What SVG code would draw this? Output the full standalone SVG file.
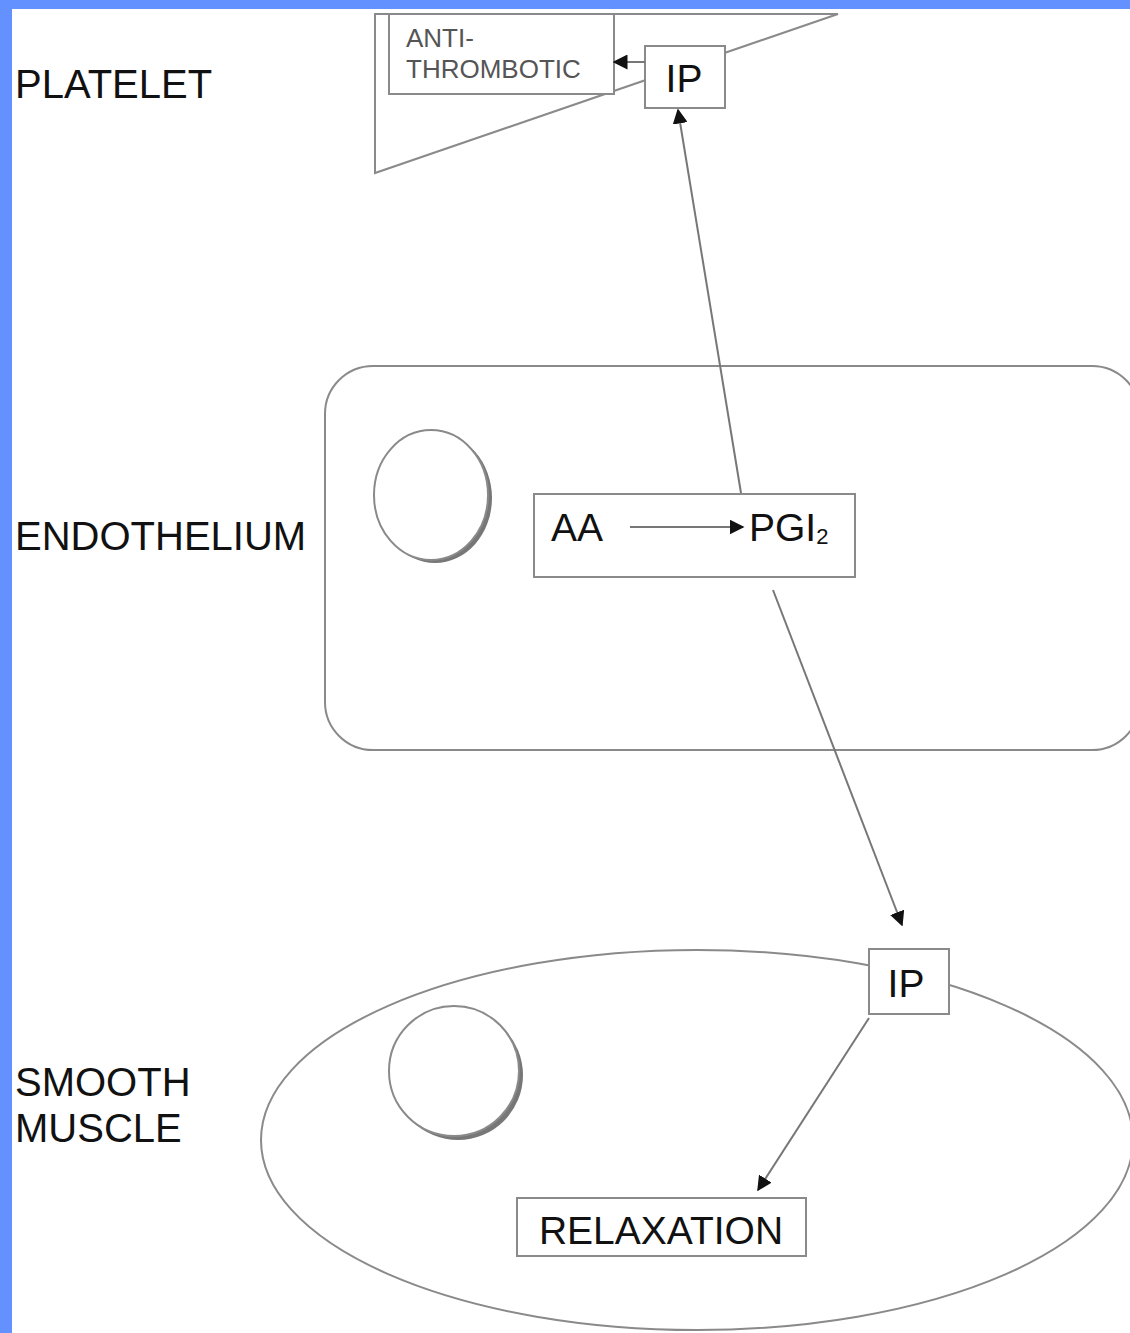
<svg xmlns="http://www.w3.org/2000/svg" width="1130" height="1333" viewBox="0 0 1130 1333">
<style>
.ln{fill:none;stroke:#8a8a8a;stroke-width:2}
.bx{fill:#fff;stroke:#8a8a8a;stroke-width:2}
.lbl{font-family:"Liberation Sans",Arial,sans-serif;font-size:40px;fill:#111}
.t{font-family:"Liberation Sans",Arial,sans-serif;font-size:39px;fill:#111}
.sm{font-family:"Liberation Sans",Arial,sans-serif;font-size:26px;fill:#555}
.arr{fill:none;stroke:#777;stroke-width:2}
</style>
<defs>
<marker id="ah" viewBox="0 0 10 10" refX="9" refY="5" markerWidth="7.5" markerHeight="7.5" orient="auto" markerUnits="strokeWidth">
<path d="M0,0 L10,5 L0,10 z" fill="#111"/>
</marker>
</defs>
<rect x="0" y="0" width="1130" height="1333" fill="#fff"/>
<rect x="0" y="0" width="1130" height="9" fill="#6391ff"/>
<rect x="0" y="0" width="12" height="1333" fill="#6391ff"/>

<g id="labels">
<text class="lbl" x="15" y="98">PLATELET</text>
<text class="lbl" x="15" y="550">ENDOTHELIUM</text>
<text class="lbl" x="15" y="1096">SMOOTH</text>
<text class="lbl" x="15" y="1142">MUSCLE</text>
</g>

<g id="platelet">
<polygon class="ln" points="375,14 838,14 375,173"/>
</g>
<g id="antithrombotic">
<rect class="bx" x="389" y="14" width="225" height="80"/>
<text class="sm" x="406" y="47">ANTI-</text>
<text class="sm" x="406" y="78">THROMBOTIC</text>
</g>
<g id="ip-platelet">
<rect class="bx" x="645" y="46" width="80" height="62"/>
<text class="t" x="684" y="92" text-anchor="middle">IP</text>
</g>

<g id="endothelium">
<rect class="ln" x="325" y="366" width="815" height="384" rx="48" ry="48"/>
</g>
<g id="nucleus-endo">
<ellipse cx="435" cy="498" rx="57" ry="65" fill="#777"/>
<ellipse cx="431" cy="495" rx="57" ry="65" fill="#fff" stroke="#8a8a8a" stroke-width="2"/>
</g>
<g id="aa-pgi2">
<rect class="bx" x="534" y="494" width="321" height="83"/>
<text class="t" x="551" y="541">AA</text>
<text class="t" x="749" y="541">PGI<tspan font-size="22" dy="3">2</tspan></text>
</g>

<g id="smooth-muscle">
<ellipse class="ln" cx="697" cy="1140" rx="436" ry="190"/>
</g>
<g id="nucleus-sm">
<ellipse cx="458" cy="1075" rx="65" ry="65" fill="#777"/>
<ellipse cx="454" cy="1071" rx="65" ry="65" fill="#fff" stroke="#8a8a8a" stroke-width="2"/>
</g>
<g id="ip-sm">
<rect class="bx" x="869" y="949" width="80" height="65"/>
<text class="t" x="906" y="997" text-anchor="middle">IP</text>
</g>
<g id="relaxation">
<rect class="bx" x="517" y="1198" width="289" height="58"/>
<text class="t" x="661" y="1244" text-anchor="middle">RELAXATION</text>
</g>

<g id="connectors">
<line class="arr" x1="645" y1="62" x2="614" y2="62" marker-end="url(#ah)"/>
<line class="arr" x1="741" y1="493" x2="678" y2="110" marker-end="url(#ah)"/>
<line class="arr" x1="630" y1="527" x2="743" y2="527" marker-end="url(#ah)"/>
<line class="arr" x1="773" y1="590" x2="902" y2="925" marker-end="url(#ah)"/>
<line class="arr" x1="869" y1="1018" x2="758" y2="1190" marker-end="url(#ah)"/>
</g>
</svg>
